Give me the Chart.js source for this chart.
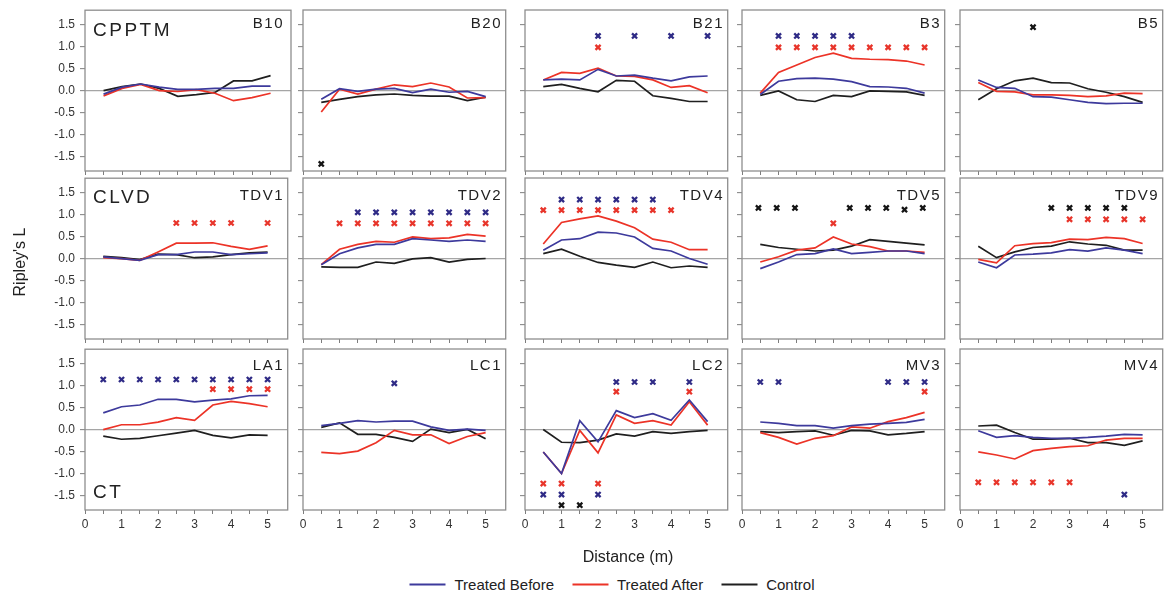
<!DOCTYPE html>
<html>
<head>
<meta charset="utf-8">
<script src="https://cdn.jsdelivr.net/npm/chart.js@4.4.0/dist/chart.umd.min.js"></script>
<style>
html,body{margin:0;padding:0;background:#fff;}
body{width:1164px;height:596px;overflow:hidden;position:relative;font-family:"Liberation Sans",Arial,sans-serif;color:#222;}
canvas.p{position:absolute;}
.name{position:absolute;font-size:15px;letter-spacing:1.5px;line-height:15px;white-space:nowrap;text-align:right;}
.group{position:absolute;font-size:19px;letter-spacing:2.5px;line-height:19px;white-space:nowrap;}
.ylab{position:absolute;left:20px;top:262px;font-size:16px;white-space:nowrap;transform:translate(-50%,-50%) rotate(-90deg);}
.xlab{position:absolute;left:628px;top:557px;font-size:16px;white-space:nowrap;transform:translate(-50%,-50%);}
.legend{position:absolute;left:612px;top:584px;transform:translate(-50%,-50%);display:flex;align-items:center;font-size:15px;white-space:nowrap;}
.legend .it{display:flex;align-items:center;margin:0 9px;}
.legend .ln{display:inline-block;width:36px;height:2px;margin-right:9px;}
</style>
</head>
<body>
<script>
// ---------------- data ----------------
const distance = [0.5, 1, 1.5, 2, 2.5, 3, 3.5, 4, 4.5, 5];
const xTicks = [0, 0.5, 1, 1.5, 2, 2.5, 3, 3.5, 4, 4.5, 5];
const yTicks = [-1.5, -1, -0.5, 0, 0.5, 1, 1.5];
const panelNames = ['B10','B20','B21','B3','B5','TDV1','TDV2','TDV4','TDV5','TDV9','LA1','LC1','LC2','MV3','MV4'];
const groupNames = ['CPPTM','CLVD','CT'];
const seriesNames = ['Treated Before','Treated After','Control'];

const B10_before  = [-0.08, 0.08, 0.15, 0.08, 0.03, 0.03, 0.05, 0.05, 0.10, 0.10];
const B10_after   = [-0.12, 0.05, 0.14, 0.00, -0.02, 0.02, -0.06, -0.23, -0.16, -0.06];
const B10_control = [0.00, 0.09, 0.15, 0.05, -0.13, -0.09, -0.04, 0.22, 0.22, 0.34];
const B10_sigBefore = [], B10_sigAfter = [], B10_sigControl = [];

const B20_before  = [-0.20, 0.04, -0.02, 0.03, 0.05, -0.05, 0.03, -0.04, -0.02, -0.14];
const B20_after   = [-0.49, 0.03, -0.08, 0.03, 0.13, 0.09, 0.17, 0.08, -0.17, -0.16];
const B20_control = [-0.27, -0.20, -0.14, -0.10, -0.08, -0.11, -0.13, -0.13, -0.23, -0.15];
const B20_sigBefore = [], B20_sigAfter = [], B20_sigControl = [[0.5, -1.67]];

const B21_before  = [0.24, 0.26, 0.24, 0.48, 0.33, 0.35, 0.28, 0.22, 0.31, 0.33];
const B21_after   = [0.24, 0.41, 0.39, 0.51, 0.33, 0.32, 0.24, 0.07, 0.11, -0.05];
const B21_control = [0.09, 0.14, 0.05, -0.03, 0.23, 0.21, -0.12, -0.18, -0.25, -0.25];
const B21_sigBefore = [[2, 1.24], [3, 1.24], [4, 1.24], [5, 1.24]];
const B21_sigAfter = [[2, 0.98]], B21_sigControl = [];

const B3_before  = [-0.09, 0.21, 0.27, 0.28, 0.26, 0.20, 0.09, 0.08, 0.05, -0.06];
const B3_after   = [-0.06, 0.41, 0.58, 0.75, 0.85, 0.73, 0.71, 0.70, 0.67, 0.58];
const B3_control = [-0.11, -0.01, -0.21, -0.25, -0.11, -0.14, -0.01, -0.02, -0.03, -0.11];
const B3_sigBefore = [[1, 1.24], [1.5, 1.24], [2, 1.24], [2.5, 1.24], [3, 1.24]];
const B3_sigAfter = [[1, 0.98], [1.5, 0.98], [2, 0.98], [2.5, 0.98], [3, 0.98], [3.5, 0.98], [4, 0.98], [4.5, 0.98], [5, 0.98]];
const B3_sigControl = [];

const B5_before  = [0.24, 0.07, 0.05, -0.14, -0.15, -0.21, -0.27, -0.30, -0.29, -0.29];
const B5_after   = [0.18, -0.02, -0.03, -0.10, -0.10, -0.11, -0.14, -0.12, -0.06, -0.07];
const B5_control = [-0.21, 0.04, 0.22, 0.28, 0.18, 0.17, 0.04, -0.04, -0.14, -0.27];
const B5_sigBefore = [], B5_sigAfter = [], B5_sigControl = [[2, 1.44]];

const TDV1_before  = [0.04, 0.00, -0.04, 0.09, 0.09, 0.15, 0.15, 0.09, 0.11, 0.13];
const TDV1_after   = [0.02, 0.00, -0.04, 0.15, 0.35, 0.35, 0.36, 0.28, 0.21, 0.29];
const TDV1_control = [0.05, 0.02, -0.02, 0.10, 0.09, 0.02, 0.04, 0.09, 0.13, 0.15];
const TDV1_sigBefore = [], TDV1_sigControl = [];
const TDV1_sigAfter = [[2.5, 0.81], [3, 0.81], [3.5, 0.81], [4, 0.81], [5, 0.81]];

const TDV2_before  = [-0.14, 0.11, 0.24, 0.32, 0.32, 0.45, 0.42, 0.39, 0.42, 0.39];
const TDV2_after   = [-0.14, 0.21, 0.32, 0.39, 0.37, 0.49, 0.45, 0.47, 0.55, 0.51];
const TDV2_control = [-0.19, -0.20, -0.20, -0.08, -0.11, -0.01, 0.02, -0.08, -0.02, 0.00];
const TDV2_sigBefore = [[1.5, 1.05], [2, 1.05], [2.5, 1.05], [3, 1.05], [3.5, 1.05], [4, 1.05], [4.5, 1.05], [5, 1.05]];
const TDV2_sigAfter = [[1, 0.80], [1.5, 0.80], [2, 0.80], [2.5, 0.80], [3, 0.80], [3.5, 0.80], [4, 0.80], [4.5, 0.80], [5, 0.80]];
const TDV2_sigControl = [];

const TDV4_before  = [0.19, 0.42, 0.45, 0.60, 0.58, 0.49, 0.23, 0.17, 0.00, -0.13];
const TDV4_after   = [0.33, 0.82, 0.90, 0.97, 0.85, 0.70, 0.44, 0.37, 0.20, 0.20];
const TDV4_control = [0.11, 0.21, 0.05, -0.09, -0.15, -0.20, -0.08, -0.21, -0.17, -0.20];
const TDV4_sigBefore = [[1, 1.34], [1.5, 1.34], [2, 1.34], [2.5, 1.34], [3, 1.34], [3.5, 1.34]];
const TDV4_sigAfter = [[0.5, 1.10], [1, 1.10], [1.5, 1.10], [2, 1.10], [2.5, 1.10], [3, 1.10], [3.5, 1.10], [4, 1.10]];
const TDV4_sigControl = [];

const TDV5_before  = [-0.23, -0.08, 0.09, 0.11, 0.22, 0.11, 0.14, 0.17, 0.17, 0.11];
const TDV5_after   = [-0.08, 0.04, 0.19, 0.24, 0.49, 0.33, 0.27, 0.17, 0.17, 0.14];
const TDV5_control = [0.32, 0.25, 0.21, 0.17, 0.19, 0.28, 0.43, 0.39, 0.35, 0.31];
const TDV5_sigBefore = [], TDV5_sigAfter = [[2.5, 0.80]];
const TDV5_sigControl = [[0.45, 1.15], [0.95, 1.15], [1.45, 1.15], [2.95, 1.15], [3.45, 1.15], [3.95, 1.15], [4.45, 1.11], [4.95, 1.15]];

const TDV9_before  = [-0.08, -0.21, 0.08, 0.10, 0.13, 0.20, 0.17, 0.24, 0.19, 0.11];
const TDV9_after   = [-0.02, -0.10, 0.29, 0.34, 0.36, 0.44, 0.43, 0.48, 0.45, 0.34];
const TDV9_control = [0.28, 0.02, 0.15, 0.25, 0.28, 0.38, 0.33, 0.30, 0.19, 0.19];
const TDV9_sigBefore = [];
const TDV9_sigAfter = [[3, 0.89], [3.5, 0.89], [4, 0.89], [4.5, 0.89], [5, 0.89]];
const TDV9_sigControl = [[2.5, 1.15], [3, 1.15], [3.5, 1.15], [4, 1.15], [4.5, 1.15]];

const LA1_before  = [0.38, 0.52, 0.56, 0.69, 0.69, 0.63, 0.67, 0.70, 0.77, 0.78];
const LA1_after   = [0.00, 0.11, 0.11, 0.17, 0.27, 0.21, 0.56, 0.64, 0.59, 0.52];
const LA1_control = [-0.15, -0.22, -0.20, -0.14, -0.08, -0.02, -0.13, -0.19, -0.12, -0.13];
const LA1_sigBefore = [[0.5, 1.14], [1, 1.14], [1.5, 1.14], [2, 1.14], [2.5, 1.14], [3, 1.14], [3.5, 1.14], [4, 1.14], [4.5, 1.14], [5, 1.14]];
const LA1_sigAfter = [[3.5, 0.92], [4, 0.92], [4.5, 0.92], [5, 0.92]];
const LA1_sigControl = [];

const LC1_before  = [0.09, 0.14, 0.20, 0.17, 0.19, 0.19, 0.06, -0.02, 0.01, -0.02];
const LC1_after   = [-0.52, -0.55, -0.49, -0.30, -0.02, -0.12, -0.12, -0.32, -0.16, -0.07];
const LC1_control = [0.05, 0.15, -0.11, -0.11, -0.18, -0.27, 0.01, -0.07, 0.00, -0.21];
const LC1_sigBefore = [[2.5, 1.05]], LC1_sigAfter = [], LC1_sigControl = [];

const LC2_before  = [-0.51, -1.00, 0.20, -0.28, 0.43, 0.27, 0.36, 0.21, 0.67, 0.18];
const LC2_after   = [-0.51, -1.00, -0.02, -0.53, 0.33, 0.14, 0.20, 0.10, 0.63, 0.10];
const LC2_control = [0.00, -0.29, -0.30, -0.24, -0.10, -0.15, -0.05, -0.09, -0.05, -0.02];
const LC2_sigBefore = [[2.5, 1.08], [3, 1.08], [3.5, 1.08], [4.5, 1.08], [0.5, -1.48], [1, -1.48], [2, -1.48]];
const LC2_sigAfter = [[2.5, 0.86], [4.5, 0.86], [0.5, -1.23], [1, -1.23], [2, -1.23]];
const LC2_sigControl = [[1, -1.72], [1.5, -1.72]];

const MV3_before  = [0.17, 0.14, 0.09, 0.09, 0.03, 0.09, 0.12, 0.14, 0.16, 0.23];
const MV3_after   = [-0.07, -0.18, -0.33, -0.20, -0.14, 0.06, 0.03, 0.18, 0.27, 0.39];
const MV3_control = [-0.05, -0.07, -0.05, -0.03, -0.13, -0.02, -0.03, -0.12, -0.09, -0.05];
const MV3_sigBefore = [[0.5, 1.08], [1, 1.08], [4, 1.08], [4.5, 1.08], [5, 1.08]];
const MV3_sigAfter = [[5, 0.86]], MV3_sigControl = [];

const MV4_before  = [-0.03, -0.18, -0.14, -0.18, -0.20, -0.20, -0.18, -0.15, -0.11, -0.12];
const MV4_after   = [-0.51, -0.58, -0.67, -0.48, -0.43, -0.39, -0.37, -0.24, -0.20, -0.20];
const MV4_control = [0.08, 0.10, -0.07, -0.22, -0.22, -0.20, -0.30, -0.30, -0.36, -0.26];
const MV4_sigBefore = [[4.5, -1.48]];
const MV4_sigAfter = [[0.5, -1.2], [1, -1.2], [1.5, -1.2], [2, -1.2], [2.5, -1.2], [3, -1.2]];
const MV4_sigControl = [];

// ------------- table built from the arrays -------------
const panelData = {
  B10: [B10_before, B10_after, B10_control, B10_sigBefore, B10_sigAfter, B10_sigControl],
  B20: [B20_before, B20_after, B20_control, B20_sigBefore, B20_sigAfter, B20_sigControl],
  B21: [B21_before, B21_after, B21_control, B21_sigBefore, B21_sigAfter, B21_sigControl],
  B3: [B3_before, B3_after, B3_control, B3_sigBefore, B3_sigAfter, B3_sigControl],
  B5: [B5_before, B5_after, B5_control, B5_sigBefore, B5_sigAfter, B5_sigControl],
  TDV1: [TDV1_before, TDV1_after, TDV1_control, TDV1_sigBefore, TDV1_sigAfter, TDV1_sigControl],
  TDV2: [TDV2_before, TDV2_after, TDV2_control, TDV2_sigBefore, TDV2_sigAfter, TDV2_sigControl],
  TDV4: [TDV4_before, TDV4_after, TDV4_control, TDV4_sigBefore, TDV4_sigAfter, TDV4_sigControl],
  TDV5: [TDV5_before, TDV5_after, TDV5_control, TDV5_sigBefore, TDV5_sigAfter, TDV5_sigControl],
  TDV9: [TDV9_before, TDV9_after, TDV9_control, TDV9_sigBefore, TDV9_sigAfter, TDV9_sigControl],
  LA1: [LA1_before, LA1_after, LA1_control, LA1_sigBefore, LA1_sigAfter, LA1_sigControl],
  LC1: [LC1_before, LC1_after, LC1_control, LC1_sigBefore, LC1_sigAfter, LC1_sigControl],
  LC2: [LC2_before, LC2_after, LC2_control, LC2_sigBefore, LC2_sigAfter, LC2_sigControl],
  MV3: [MV3_before, MV3_after, MV3_control, MV3_sigBefore, MV3_sigAfter, MV3_sigControl],
  MV4: [MV4_before, MV4_after, MV4_control, MV4_sigBefore, MV4_sigAfter, MV4_sigControl]
};

// ------------- layout & style -------------
const lineColors = ['#3d3a9c', '#ec3327', '#1f1f1f'];
const markColors = ['#2f2b86', '#e8352b', '#151515'];
const colLeft = [85, 303, 525, 742, 960];
const rowTop = [10, 178, 349];
const PW = 206, PH = 161, AXW = 36, AXH = 26, PADT = 12, PADR = 3;
const nameBaseline = [17, 21, 20];
const groupBaseline = [26, 25, 149];

const framePlugin = {
  id: 'frame',
  afterDraw(chart) {
    const a = chart.chartArea, ctx = chart.ctx;
    ctx.save();
    ctx.strokeStyle = '#8e8e8e';
    ctx.lineWidth = 1.3;
    ctx.strokeRect(a.left, a.top, a.right - a.left, a.bottom - a.top);
    ctx.restore();
  }
};

panelNames.forEach((name, idx) => {
  const r = Math.floor(idx / 5), c = idx % 5;
  const d = panelData[name];
  const cv = document.createElement('canvas');
  cv.className = 'p';
  const W = AXW + PW + PADR, H = PADT + PH + AXH;
  cv.width = W; cv.height = H;
  cv.style.width = W + 'px'; cv.style.height = H + 'px';
  cv.style.left = (colLeft[c] - AXW) + 'px';
  cv.style.top = (rowTop[r] - PADT) + 'px';
  document.body.appendChild(cv);

  const datasets = [];
  [0, 1, 2].forEach(s => {
    if (d[3 + s].length) {
      datasets.push({
        label: seriesNames[s] + ' sig',
        data: d[3 + s].map(p => ({x: p[0], y: p[1]})),
        showLine: false,
        pointStyle: 'crossRot',
        pointRadius: 3.6,
        pointBorderWidth: 2.3,
        borderColor: markColors[s],
        backgroundColor: markColors[s]
      });
    }
  });
  [0, 1, 2].forEach(s => {
    datasets.push({
      label: seriesNames[s],
      data: distance.map((x, i) => ({x: x, y: d[s][i]})),
      showLine: true,
      borderColor: lineColors[s],
      backgroundColor: lineColors[s],
      borderWidth: 1.7,
      pointRadius: 0,
      tension: 0,
      fill: false
    });
  });

  new Chart(cv, {
    type: 'scatter',
    data: {datasets},
    plugins: [framePlugin],
    options: {
      responsive: false,
      animation: false,
      events: [],
      layout: {padding: {top: PADT, right: PADR, left: 0, bottom: 0}},
      plugins: {legend: {display: false}, tooltip: {enabled: false}},
      scales: {
        x: {
          type: 'linear', min: 0, max: 5.55, bounds: 'data',
          afterBuildTicks: s => { s.ticks = xTicks.map(v => ({value: v})); },
          afterFit: s => { s.height = AXH; },
          border: {display: false},
          grid: {drawOnChartArea: false, drawTicks: true, tickLength: 4, tickColor: '#7d7d7d', tickWidth: 1},
          ticks: {
            display: r === 2, autoSkip: false, maxRotation: 0, padding: 3,
            color: '#333', font: {family: '"Liberation Sans", Arial, sans-serif', size: 12},
            callback: v => Number.isInteger(v) ? String(v) : ''
          }
        },
        y: {
          type: 'linear', min: -1.83, max: 1.83, bounds: 'data',
          afterBuildTicks: s => { s.ticks = yTicks.map(v => ({value: v})); },
          afterFit: s => { s.width = AXW; },
          border: {display: false},
          grid: {
            drawOnChartArea: true, drawTicks: true, tickLength: 5, tickColor: '#7d7d7d', tickWidth: 1,
            color: ctx => (ctx.tick && ctx.tick.value === 0) ? '#a5a5a5' : 'rgba(0,0,0,0)',
            lineWidth: 1.3
          },
          ticks: {
            display: c === 0, padding: 5,
            color: '#333', font: {family: '"Liberation Sans", Arial, sans-serif', size: 12},
            callback: v => v.toFixed(1)
          }
        }
      }
    }
  });

  // panel name
  const nm = document.createElement('div');
  nm.className = 'name';
  nm.textContent = name;
  nm.style.right = (1164 - (colLeft[c] + PW - 7)) + 'px';
  nm.style.top = (rowTop[r] + nameBaseline[r] - 12) + 'px';
  document.body.appendChild(nm);

  if (c === 0) {
    const g = document.createElement('div');
    g.className = 'group';
    g.textContent = groupNames[r];
    g.style.left = (colLeft[c] + 8) + 'px';
    g.style.top = (rowTop[r] + groupBaseline[r] - 16) + 'px';
    document.body.appendChild(g);
  }
});

// axis titles & legend (text)
const yl = document.createElement('div'); yl.className = 'ylab'; yl.textContent = "Ripley's L"; document.body.appendChild(yl);
const xl = document.createElement('div'); xl.className = 'xlab'; xl.textContent = 'Distance (m)'; document.body.appendChild(xl);
const lg = document.createElement('div'); lg.className = 'legend';
seriesNames.forEach((s, i) => {
  const it = document.createElement('span'); it.className = 'it';
  const ln = document.createElement('span'); ln.className = 'ln'; ln.style.background = lineColors[i];
  const tx = document.createElement('span'); tx.textContent = s;
  it.appendChild(ln); it.appendChild(tx); lg.appendChild(it);
});
document.body.appendChild(lg);
</script>
</body>
</html>
